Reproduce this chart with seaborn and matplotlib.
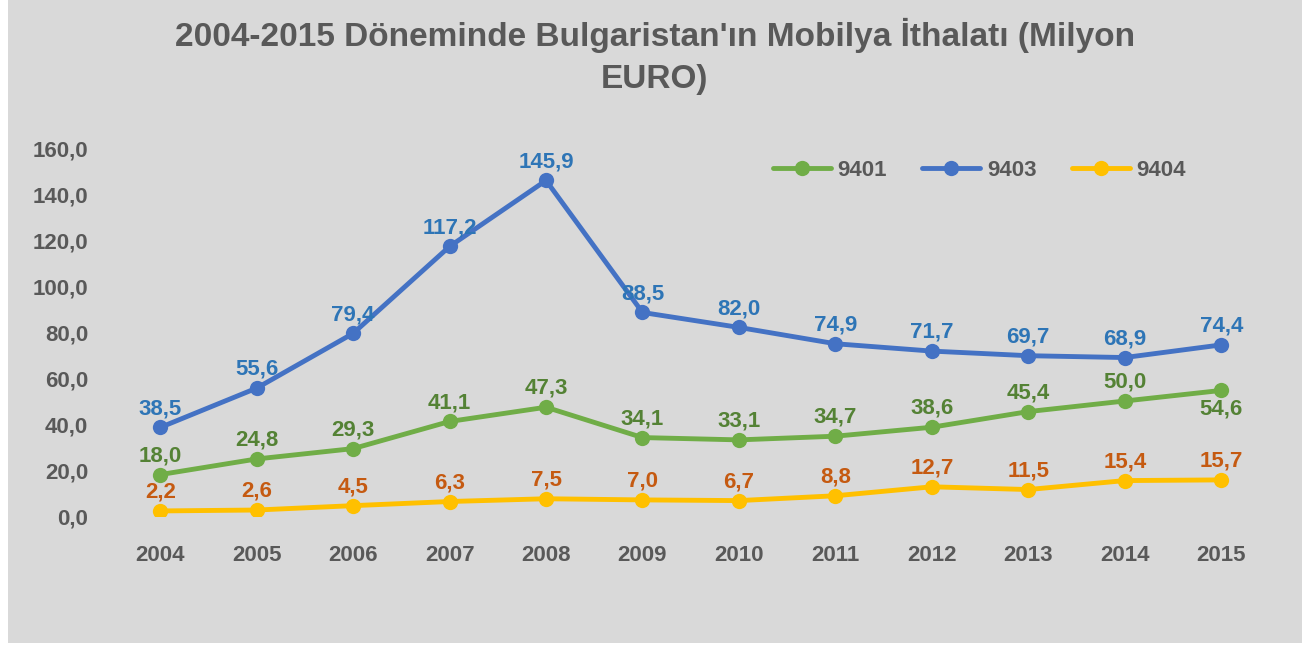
import matplotlib.pyplot as plt
import numpy as np
import pandas as pd
import seaborn as sns
from matplotlib.patches import Rectangle

# Data
years = [2004, 2005, 2006, 2007, 2008, 2009, 2010, 2011, 2012, 2013, 2014, 2015]
s9401 = [18.0, 24.8, 29.3, 41.1, 47.3, 34.1, 33.1, 34.7, 38.6, 45.4, 50.0, 54.6]
s9403 = [38.5, 55.6, 79.4, 117.2, 145.9, 88.5, 82.0, 74.9, 71.7, 69.7, 68.9, 74.4]
s9404 = [2.2, 2.6, 4.5, 6.3, 7.5, 7.0, 6.7, 8.8, 12.7, 11.5, 15.4, 15.7]
series_names = ["9401", "9403", "9404"]

line_colors = {"9401": "#70AD47", "9403": "#4472C4", "9404": "#FFC000"}
label_colors = {"9401": "#548235", "9403": "#2E75B6", "9404": "#C55A11"}
bg = "#D9D9D9"
text_gray = "#595959"

sns.set_theme(style="white")
plt.rcParams["font.family"] = ["Liberation Sans", "DejaVu Sans"]

df = pd.DataFrame({
    "pos": list(range(len(years))) * 3,
    "value": s9401 + s9403 + s9404,
    "series": np.repeat(series_names, len(years)),
})

fig = plt.figure(figsize=(13.02, 6.45), dpi=100, facecolor="white")
fig.patches.append(Rectangle((8 / 1302, 0.003), 1 - 8 / 1302, 0.997,
                             transform=fig.transFigure, facecolor=bg,
                             edgecolor="none", zorder=-10))
ax = fig.add_axes([0.086, 0.2, 0.889, 0.5705])
ax.set_facecolor("none")

sns.lineplot(data=df, x="pos", y="value", hue="series", palette=line_colors,
             marker="o", markersize=11, markeredgewidth=0, linewidth=3.5,
             ax=ax, legend=True)

# Data labels
for name, vals in zip(series_names, [s9401, s9403, s9404]):
    for i, v in enumerate(vals):
        txt = f"{v:.1f}".replace(".", ",")
        dy, va = 6, "bottom"
        if name == "9401" and i == len(vals) - 1:
            dy, va = -6, "top"
        ax.annotate(txt, (i, v), xytext=(0, dy), textcoords="offset points",
                    ha="center", va=va, fontsize=16, fontweight="bold",
                    color=label_colors[name])

ax.set_xlim(-0.5, len(years) - 0.5)
ax.set_ylim(0, 160)
ax.set_xticks(range(len(years)))
ax.set_xticklabels([str(y) for y in years])
ax.set_yticks(np.arange(0, 161, 20))
ax.set_yticklabels([f"{t:.1f}".replace(".", ",") for t in np.arange(0, 161, 20)])
ax.tick_params(axis="both", length=0, labelsize=16, labelcolor=text_gray)
ax.tick_params(axis="x", pad=21)
ax.tick_params(axis="y", pad=17)
for lbl in ax.get_xticklabels() + ax.get_yticklabels():
    lbl.set_fontweight("bold")
ax.set_xlabel("")
ax.set_ylabel("")
sns.despine(ax=ax, left=True, bottom=True)

leg = ax.legend(loc="upper right", bbox_to_anchor=(0.945, 1.022), ncol=3,
                frameon=False, fontsize=16, handlelength=2.6,
                columnspacing=1.6, handletextpad=0.3)
for t in leg.get_texts():
    t.set_color(text_gray)
    t.set_fontweight("bold")

fig.text(0.503, 0.912, "2004-2015 Döneminde Bulgaristan'ın Mobilya İthalatı (Milyon\nEURO)",
         ha="center", va="center", fontsize=24, fontweight="bold",
         color=text_gray, linespacing=1.45)

fig.savefig("out.png", dpi=100, facecolor=fig.get_facecolor())
